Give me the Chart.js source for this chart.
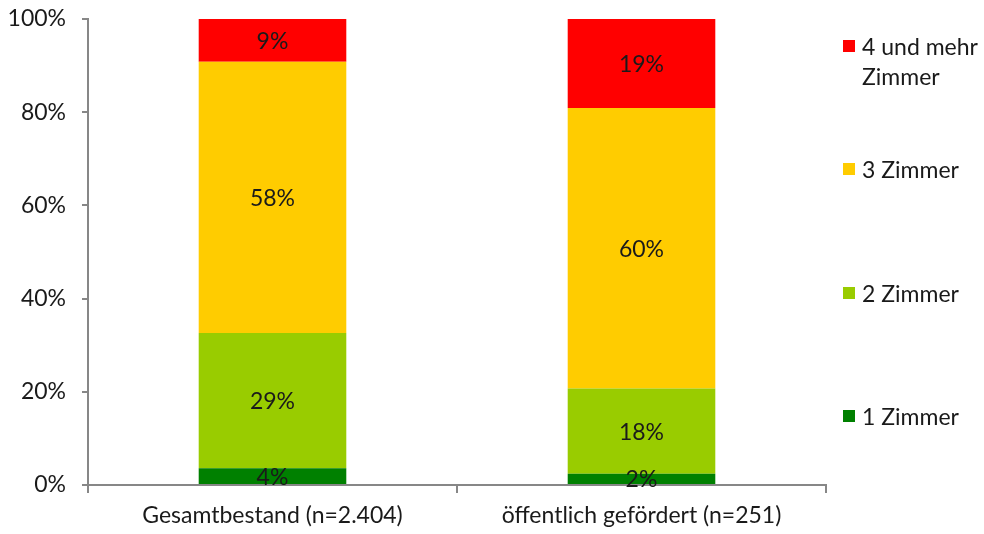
<!DOCTYPE html>
<html lang="de">
<head>
<meta charset="utf-8">
<script src="https://cdn.jsdelivr.net/npm/chart.js@4.4.1/dist/chart.umd.min.js"></script>
<style>
  html, body { margin: 0; padding: 0; background: #fff; }
  #wrap { position: relative; width: 984px; height: 534px; }
  #legend { position: absolute; left: 843px; top: 0; font-family: Lato, sans-serif; font-size: 23px; color: #1a1a1a; }
  .item { position: absolute; left: 0; width: 141px; line-height: 30px; padding-left: 19px; white-space: nowrap; }
  .box { position: absolute; left: 0; top: 9px; width: 12px; height: 12px; }
</style>
</head>
<body>
<div id="wrap">
  <canvas id="roomsChart" width="984" height="534"></canvas>
  <div id="legend"></div>
</div>
<script>
// Wohnungsgrößen nach Zimmerzahl, Anteil in Prozent
const categories = ["Gesamtbestand (n=2.404)", "öffentlich gefördert (n=251)"];
const seriesNames = ["1 Zimmer", "2 Zimmer", "3 Zimmer", "4 und mehr Zimmer"];
const oneRoom = [3.6, 2.4];
const twoRooms = [29.0, 18.3];
const threeRooms = [58.2, 60.2];
const fourPlusRooms = [9.2, 19.1];
const seriesColors = ["#008000", "#99CC00", "#FFCC00", "#FF0000"];
const yTicks = [0, 20, 40, 60, 80, 100];

const FONT = "Lato, sans-serif";
const FONT_SIZE = 23;
const AXIS_GREY = "#878787";

const seriesValues = [oneRoom, twoRooms, threeRooms, fourPlusRooms];

// Prozentwerte mittig in jedes Segment schreiben
const segmentLabels = {
    id: "segmentLabels",
    afterDatasetsDraw(chart) {
        const ctx = chart.ctx;
        ctx.save();
        ctx.font = FONT_SIZE + "px " + FONT;
        ctx.fillStyle = "#1a1a1a";
        ctx.textAlign = "center";
        ctx.textBaseline = "middle";
        chart.data.datasets.forEach((ds, i) => {
            chart.getDatasetMeta(i).data.forEach((bar, j) => {
                const y = (bar.y + bar.base) / 2;
                ctx.fillText(Math.round(ds.data[j]) + "%", bar.x, y + 1);
            });
        });
        ctx.restore();
    }
};

new Chart(document.getElementById("roomsChart").getContext("2d"), {
    type: "bar",
    data: {
        labels: categories,
        datasets: seriesNames.map((name, i) => ({
            label: name,
            data: seriesValues[i],
            backgroundColor: seriesColors[i],
            borderWidth: 0,
            categoryPercentage: 1,
            barPercentage: 0.4
        }))
    },
    options: {
        responsive: false,
        animation: false,
        layout: { padding: { top: 19, right: 158, left: 0, bottom: 0 } },
        plugins: { legend: { display: false }, tooltip: { enabled: false } },
        scales: {
            x: {
                stacked: true,
                offset: true,
                afterFit(scale) { scale.height = 49; },
                border: { display: true, color: AXIS_GREY, width: 2 },
                grid: { offset: true, drawOnChartArea: false, drawTicks: true, tickLength: 8, color: AXIS_GREY, lineWidth: 2 },
                ticks: { padding: 9, color: "#1a1a1a", font: { family: FONT, size: FONT_SIZE } }
            },
            y: {
                stacked: true,
                min: 0,
                max: 100,
                afterFit(scale) {
                    scale.width = 88;
                    scale.paddingTop = 0;
                    scale.paddingBottom = 0;
                },
                afterBuildTicks(scale) { scale.ticks = yTicks.map(v => ({ value: v })); },
                border: { display: true, color: AXIS_GREY, width: 2 },
                grid: { drawOnChartArea: false, drawTicks: true, tickLength: 6, color: AXIS_GREY, lineWidth: 2 },
                ticks: { padding: 16, color: "#1a1a1a", font: { family: FONT, size: FONT_SIZE }, callback: v => v + "%" }
            }
        }
    },
    plugins: [segmentLabels]
});

// Legende rechts, in umgekehrter Reihenfolge
const legendTops = [401, 278, 154, 31];
const legendNames = ["1 Zimmer", "2 Zimmer", "3 Zimmer", "4 und mehr<br>Zimmer"];
const legend = document.getElementById("legend");
seriesNames.forEach((name, i) => {
    const item = document.createElement("div");
    item.className = "item";
    item.style.top = legendTops[i] + "px";
    item.innerHTML = `<span class="box" style="background:${seriesColors[i]}"></span>${legendNames[i]}`;
    legend.appendChild(item);
});
</script>
</body>
</html>
